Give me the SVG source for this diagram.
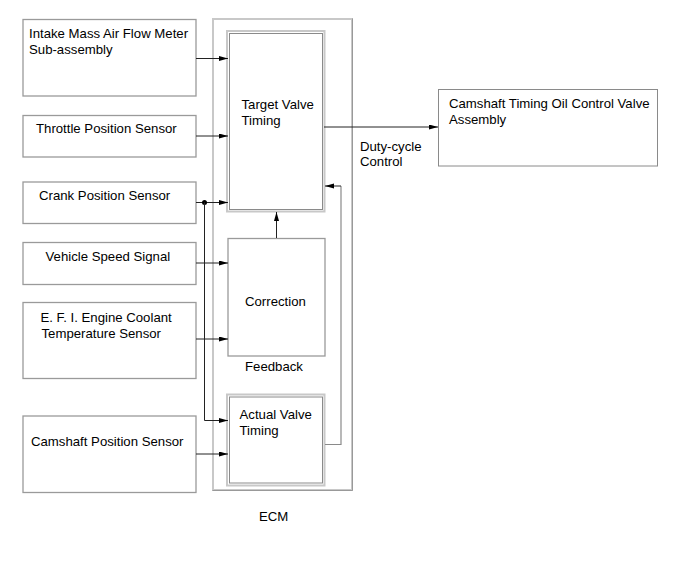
<svg xmlns="http://www.w3.org/2000/svg" width="690" height="564" viewBox="0 0 690 564">
<style>
text{font-family:"Liberation Sans",Arial,sans-serif;font-size:13.2px;fill:#000}
.box{fill:none;stroke:#9a9a9a;stroke-width:1.3}
.outer{fill:none;stroke:#c8c8c8;stroke-width:2}
.inner{fill:none;stroke:#8a8a8a;stroke-width:1}
.ln{fill:none;stroke:#222;stroke-width:1}
.fb{fill:none;stroke:#8a8a8a;stroke-width:1.2}
</style>
<defs>
<marker id="ah" markerUnits="userSpaceOnUse" markerWidth="10" markerHeight="6" refX="9" refY="2.5" orient="auto">
<path d="M0,0 L9,2.5 L0,5 z" fill="#000"/>
</marker>
</defs>
<g id="ecm">
<rect x="213" y="19" width="139" height="471" fill="none" stroke="#c8c8c8" stroke-width="2"/>
<path d="M352.5,18.5 V490.5 H212.5" fill="none" stroke="#999" stroke-width="1"/>
<text x="259" y="520.5">ECM</text>
</g>
<g id="maf">
<rect class="box" x="23" y="19.5" width="173" height="76.5"/>
<text x="29" y="37.8">Intake Mass Air Flow Meter</text>
<text x="29" y="53.8">Sub-assembly</text>
</g>
<g id="tps">
<rect class="box" x="23" y="115.5" width="173" height="41.5"/>
<text x="36" y="132.8">Throttle Position Sensor</text>
</g>
<g id="crank">
<rect class="box" x="23" y="182" width="173" height="41.5"/>
<text x="39" y="199.5">Crank Position Sensor</text>
</g>
<g id="vss">
<rect class="box" x="23" y="242.5" width="173" height="42"/>
<text x="45.5" y="261">Vehicle Speed Signal</text>
</g>
<g id="ect">
<rect class="box" x="23" y="302.5" width="173" height="76"/>
<text x="40.5" y="322">E. F. I. Engine Coolant</text>
<text x="41.5" y="338">Temperature Sensor</text>
</g>
<g id="cam">
<rect class="box" x="23" y="416" width="173" height="76.5"/>
<text x="31" y="445.5">Camshaft Position Sensor</text>
</g>
<g id="target">
<rect class="outer" x="227" y="31" width="97.5" height="180.5"/>
<rect class="inner" x="229.5" y="33.5" width="93" height="176"/>
<text x="241.5" y="108.5">Target Valve</text>
<text x="241.5" y="124.5">Timing</text>
</g>
<g id="correction">
<rect class="box" x="228" y="238.5" width="97" height="117.5"/>
<text x="245" y="306">Correction</text>
</g>
<g id="actual">
<rect class="outer" x="227" y="394.5" width="97.5" height="91"/>
<rect class="inner" x="229.5" y="397" width="93" height="86"/>
<text x="239.5" y="419">Actual Valve</text>
<text x="239.5" y="435">Timing</text>
</g>
<g id="ocv">
<rect class="inner" x="438.5" y="89.5" width="219" height="76.5"/>
<text x="449" y="107.8">Camshaft Timing Oil Control Valve</text>
<text x="449" y="123.8">Assembly</text>
</g>
<g id="connectors">
<path class="ln" d="M196,58.5 H228" marker-end="url(#ah)"/>
<path class="ln" d="M196,136 H228" marker-end="url(#ah)"/>
<path class="ln" d="M196,202.5 H228" marker-end="url(#ah)"/>
<circle cx="204.5" cy="202.5" r="2.5" fill="#000"/>
<path class="ln" d="M204.5,202.5 V420.5 H228" marker-end="url(#ah)"/>
<path class="ln" d="M196,263 H228" marker-end="url(#ah)"/>
<path class="ln" d="M196,339 H228" marker-end="url(#ah)"/>
<path class="ln" d="M196,454 H228" marker-end="url(#ah)"/>
<path class="ln" d="M276.5,238 V212" marker-end="url(#ah)"/>
<path class="ln" d="M324,127 H438" marker-end="url(#ah)"/>
<path class="fb" d="M325,444.5 H341 V186" />
<path class="ln" d="M341,186 H325" stroke="#777" marker-end="url(#ah)"/>
<text x="360" y="151">Duty-cycle</text>
<text x="360" y="166">Control</text>
<text x="245" y="370.5">Feedback</text>
</g>
</svg>
